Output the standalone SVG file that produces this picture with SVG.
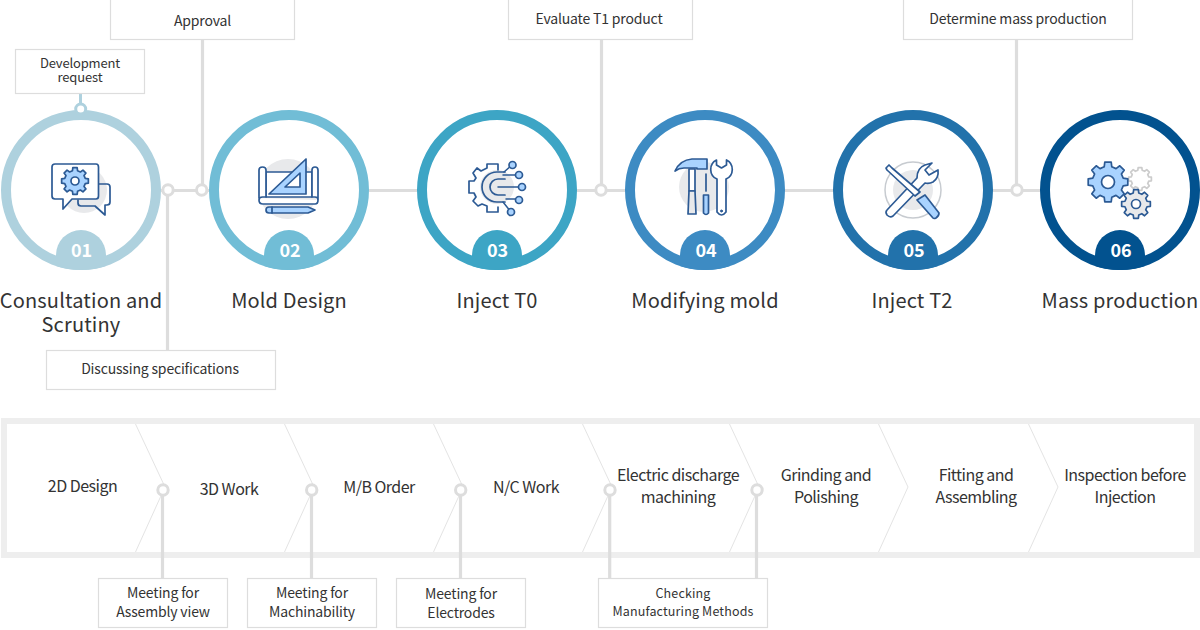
<svg xmlns="http://www.w3.org/2000/svg" xmlns:xlink="http://www.w3.org/1999/xlink" width="1200" height="630" viewBox="0 0 1200 630">
<style>
text{font-family:"Noto Sans CJK KR","Noto Sans",sans-serif;fill:#333;text-anchor:middle}
.box{fill:#fff;stroke:#ddd;stroke-width:1.2}
.ln{fill:none;stroke:#ddd;stroke-width:3.200}
.rg{fill:#fff;stroke:#ddd;stroke-width:3}
.chev{fill:none;stroke:#e4e4e4;stroke-width:1}
.ring{fill:#fff;stroke-width:10}
.num{font-size:18px;font-weight:700;fill:#fff}
.title{font-size:20px;letter-spacing:.15px}
.t14{font-size:14px;letter-spacing:-.17px}.t13{font-size:13px;letter-spacing:-.15px}.t12{font-size:12.500px;letter-spacing:.15px}.t16{font-size:16px;letter-spacing:-.52px}
.ic{stroke:#2c5a94;stroke-width:1.700;fill:none;stroke-linejoin:round;stroke-linecap:round}
.ic .b{fill:#a9d3ff}.ic .w{fill:#fff}
.gr{fill:#e8e9eb;stroke:none}
.g{vector-effect:non-scaling-stroke}
</style>
<defs>
<path id="badge" d="M-25 76V65A25 25 0 0 1 25 65V76A80 80 0 0 1-25 76Z"/>
<polygon id="gear" class="g" points="99,16 76,19 67,40 81,59 59,81 40,67 19,76 16,99 -16,99 -19,76 -40,67 -59,81 -81,59 -67,40 -76,19 -99,16 -99,-16 -76,-19 -67,-40 -81,-59 -59,-81 -40,-67 -19,-76 -16,-99 16,-99 19,-76 40,-67 59,-81 81,-59 67,-40 76,-19 99,-16"/>
</defs>

<g id="connectors">
<path class="ln" d="M161 190.500H209M369 190.500H417M577 190.500H625M785 190.500H833M993 190.500H1040"/>
<path class="ln" d="M202.500 39V190M167.500 190V350M601.500 39V190M1016.500 39V190"/>
<path d="M80.500 93V105" fill="none" stroke="#aed1de" stroke-width="3"/>
</g>

<g id="n1">
<circle class="ring" cx="81" cy="190" r="75" stroke="#aed1de"/>
<use xlink:href="#badge" transform="translate(81 190)" fill="#aed1de"/>
<text class="num" x="81.500" y="257">01</text>
<g class="ic">
<circle class="gr" cx="84" cy="190" r="23"/>
<path d="M98 184H107Q110 184 110 187V202Q110 205 107 205H105V215L95 206H81Q78 206 78 203V200"/>
<path class="w" d="M55 164H96Q98.500 164 98.500 167V196Q98.500 199 96 199H72L63 209V199H55Q52 199 52 196V167Q52 164 55 164Z"/>
<use xlink:href="#gear" class="b" transform="translate(75 181) scale(.135)"/>
<circle class="w" cx="75" cy="181" r="4"/>
</g>
<text class="title" x="81" y="308">Consultation and</text>
<text class="title" x="81" y="332">Scrutiny</text>
<circle cx="80.700" cy="109" r="5" fill="#fff" stroke="#aed1de" stroke-width="3"/>
</g>

<g id="n2">
<circle class="ring" cx="289" cy="190" r="75" stroke="#71bdd6"/>
<use xlink:href="#badge" transform="translate(289 190)" fill="#71bdd6"/>
<text class="num" x="290" y="257">02</text>
<g class="ic">
<circle class="gr" cx="288" cy="189" r="30"/>
<path class="w" d="M266 172H312V197H266Z" stroke-width="1.500"/>
<path class="w" d="M259 198V170Q259 167 262.500 167Q266 167 266 170V197H262.500Q259 197 259 200V200Q259 204 263 204H315Q318 204 318 200V170Q318 167 315 167Q312 167 312 170V197H315Q318 197 318 200"/>
<path class="b" d="M269 194L306 159V194ZM285 187H300V173Z" fill-rule="evenodd"/>
<path class="b" d="M269 207H308L315 210L308 213H269Q266 213 266 210Q266 207 269 207Z"/>
<path d="M272 207V213"/>
</g>
<text class="title" x="289" y="308">Mold Design</text>
</g>

<g id="n3">
<circle class="ring" cx="497" cy="190" r="75" stroke="#3da5c5"/>
<use xlink:href="#badge" transform="translate(497 190)" fill="#3da5c5"/>
<text class="num" x="497.500" y="257">03</text>
<g class="ic">
<circle class="gr" cx="497" cy="187" r="17"/>
<path d="M498 170V164H487V168L481 171L477 168L473 173L476 178L474 181H469V193H474L476 197L473 201L478 206L482 204L487 206V212H498V207"/>
<path d="M505 172H497A15 15 0 0 0 497 202H505M505 179H498A8 8 0 0 0 498 195H505"/>
<path d="M504 172L512 165M503 175H519M498 187H522M506 199H519M503 202L511 212" stroke-width="1.500"/>
<g class="b"><circle cx="512.500" cy="165" r="3.500"/><circle cx="519" cy="175" r="3.500"/><circle cx="522" cy="187" r="3.500"/><circle cx="519" cy="200" r="3.500"/><circle cx="511" cy="212" r="3.500"/></g>
</g>
<text class="title" x="497" y="308">Inject T0</text>
</g>

<g id="n4">
<circle class="ring" cx="705" cy="190" r="75" stroke="#3d8bc3"/>
<use xlink:href="#badge" transform="translate(705 190)" fill="#3d8bc3"/>
<text class="num" x="706" y="257">04</text>
<g class="ic">
<circle class="gr" cx="704" cy="187" r="25"/>
<path class="b" d="M675 171Q680 160 692 159H707V169H697V168H684Q679 168 675 171Z"/>
<path class="w" d="M689 169V191H695V169Z"/>
<path class="gr" style="stroke:#2c5a94" d="M689 191L688 214H696L695 191Z"/>
<path d="M706 174V191"/>
<path class="b" d="M703.500 195H708.500L708.500 213Q706 216 703.500 213Z"/>
<path class="w" d="M716.500 160A10.500 10.500 0 0 0 717 179V212Q721.500 218 726 212V179A10.500 10.500 0 0 0 726.500 160V165L721.500 168L716.500 165Z"/>
<circle cx="721.500" cy="211" r="1" fill="#2c5a94" stroke-width="1"/>
</g>
<text class="title" x="705" y="308">Modifying mold</text>
</g>

<g id="n5">
<circle class="ring" cx="913" cy="190" r="75" stroke="#2272ab"/>
<use xlink:href="#badge" transform="translate(913 190)" fill="#2272ab"/>
<text class="num" x="914" y="257">05</text>
<circle cx="913" cy="190" r="28" fill="none" stroke="#c7cbd0" stroke-width="1.500"/>
<circle class="gr" cx="913" cy="190" r="20"/>
<g class="ic">
<path class="w" d="M887 210L917 178Q917 168 925 165L932 163L925 170L929 175L938 170Q939 178 933 182Q929 184 925 183L893 216Q890 218 887 215Q885 212 887 210Z"/>
<path class="w" d="M887 170L886 168L889 165L892 168L920 192L915 196Z"/>
<path class="b" d="M917 200L925 195L939 213Q939 216 936 218Q934 219 933 218Z"/>
</g>
<text class="title" x="912" y="308">Inject T2</text>
</g>

<g id="n6">
<circle class="ring" cx="1120" cy="190" r="75" stroke="#02528f"/>
<use xlink:href="#badge" transform="translate(1120 190)" fill="#02528f"/>
<text class="num" x="1121" y="257">06</text>
<g class="ic">
<use xlink:href="#gear" style="stroke:#ccc" transform="translate(1140 179) scale(.115)" fill="#fff"/>
<use xlink:href="#gear" class="b" transform="translate(1108 182) scale(.2)"/>
<circle class="w" cx="1108" cy="182" r="6.500"/>
<use xlink:href="#gear" transform="translate(1136 204) scale(.145)" fill="#e8e9eb"/>
<circle class="w" cx="1136" cy="204" r="4.500"/>
</g>
<text class="title" x="1120" y="308">Mass production</text>
</g>

<g id="note-request"><rect class="box" x="15.500" y="49.500" width="129" height="44"/><text class="t13" x="80" y="68">Development</text><text class="t13" x="80" y="82">request</text></g>
<g id="note-approval"><rect class="box" x="110.500" y="-1" width="184" height="40.500"/><text class="t14" x="202.500" y="26">Approval</text></g>
<g id="note-spec"><rect class="box" x="46.500" y="350.500" width="229" height="39"/><text class="t14" x="160" y="374">Discussing specifications</text></g>
<g id="note-t1"><rect class="box" x="508.500" y="-1" width="184" height="40.500"/><text class="t14" x="599" y="24">Evaluate T1 product</text></g>
<g id="note-mass"><rect class="box" x="903.500" y="-1" width="229" height="40.500"/><text class="t14" x="1018" y="24">Determine mass production</text></g>

<g id="process">
<rect x="4" y="421" width="1193" height="134" fill="#fff" stroke="#eee" stroke-width="6"/>
<g class="chev">
<path d="M135.500 424L165 487L135.500 552M284.500 424L314 487L284.500 552M433.500 424L463 487L433.500 552M582.500 424L612 487L582.500 552M729.500 424L759 487L729.500 552M878.500 424L908 487L878.500 552M1028.500 424L1058 487L1028.500 552"/>
</g>
<text class="t16" x="82.500" y="492">2D Design</text>
<text class="t16" x="229" y="495">3D Work</text>
<text class="t16" x="379" y="493">M/B Order</text>
<text class="t16" x="526" y="493">N/C Work</text>
<text class="t16" x="678" y="481">Electric discharge</text><text class="t16" x="678" y="503">machining</text>
<text class="t16" x="826" y="481">Grinding and</text><text class="t16" x="826" y="503">Polishing</text>
<text class="t16" x="976" y="481">Fitting and</text><text class="t16" x="976" y="503">Assembling</text>
<text class="t16" x="1125" y="481">Inspection before</text><text class="t16" x="1125" y="503">Injection</text>
</g>

<g id="process-connectors">
<path class="ln" d="M162.500 490V578M311.500 490V578M460.500 490V578M609.700 490V578M756.500 490V578"/>
<circle class="rg" cx="163" cy="490" r="5.200"/><circle class="rg" cx="311.700" cy="490" r="5.200"/><circle class="rg" cx="460.700" cy="490" r="5.200"/><circle class="rg" cx="610" cy="490" r="5.200"/><circle class="rg" cx="757" cy="490" r="5.200"/>
</g>
<g id="top-rings"><circle class="rg" cx="168" cy="190" r="5.200"/><circle class="rg" cx="201.700" cy="190" r="5.200"/><circle class="rg" cx="601" cy="190" r="5.200"/><circle class="rg" cx="1017" cy="190" r="5.200"/></g>

<g id="note-assembly"><rect class="box" x="98.500" y="578.500" width="129" height="49"/><text class="t14" x="163" y="598">Meeting for</text><text class="t14" x="163" y="617">Assembly view</text></g>
<g id="note-mach"><rect class="box" x="247.500" y="578.500" width="129" height="49"/><text class="t14" x="312" y="598">Meeting for</text><text class="t14" x="312" y="617">Machinability</text></g>
<g id="note-elec"><rect class="box" x="396.500" y="578.500" width="129" height="49"/><text class="t14" x="461" y="599">Meeting for</text><text class="t14" x="461" y="618">Electrodes</text></g>
<g id="note-check"><rect class="box" x="598.500" y="578.500" width="169" height="49"/><text class="t12" x="683" y="598">Checking</text><text class="t12" x="683" y="616">Manufacturing Methods</text></g>
</svg>
